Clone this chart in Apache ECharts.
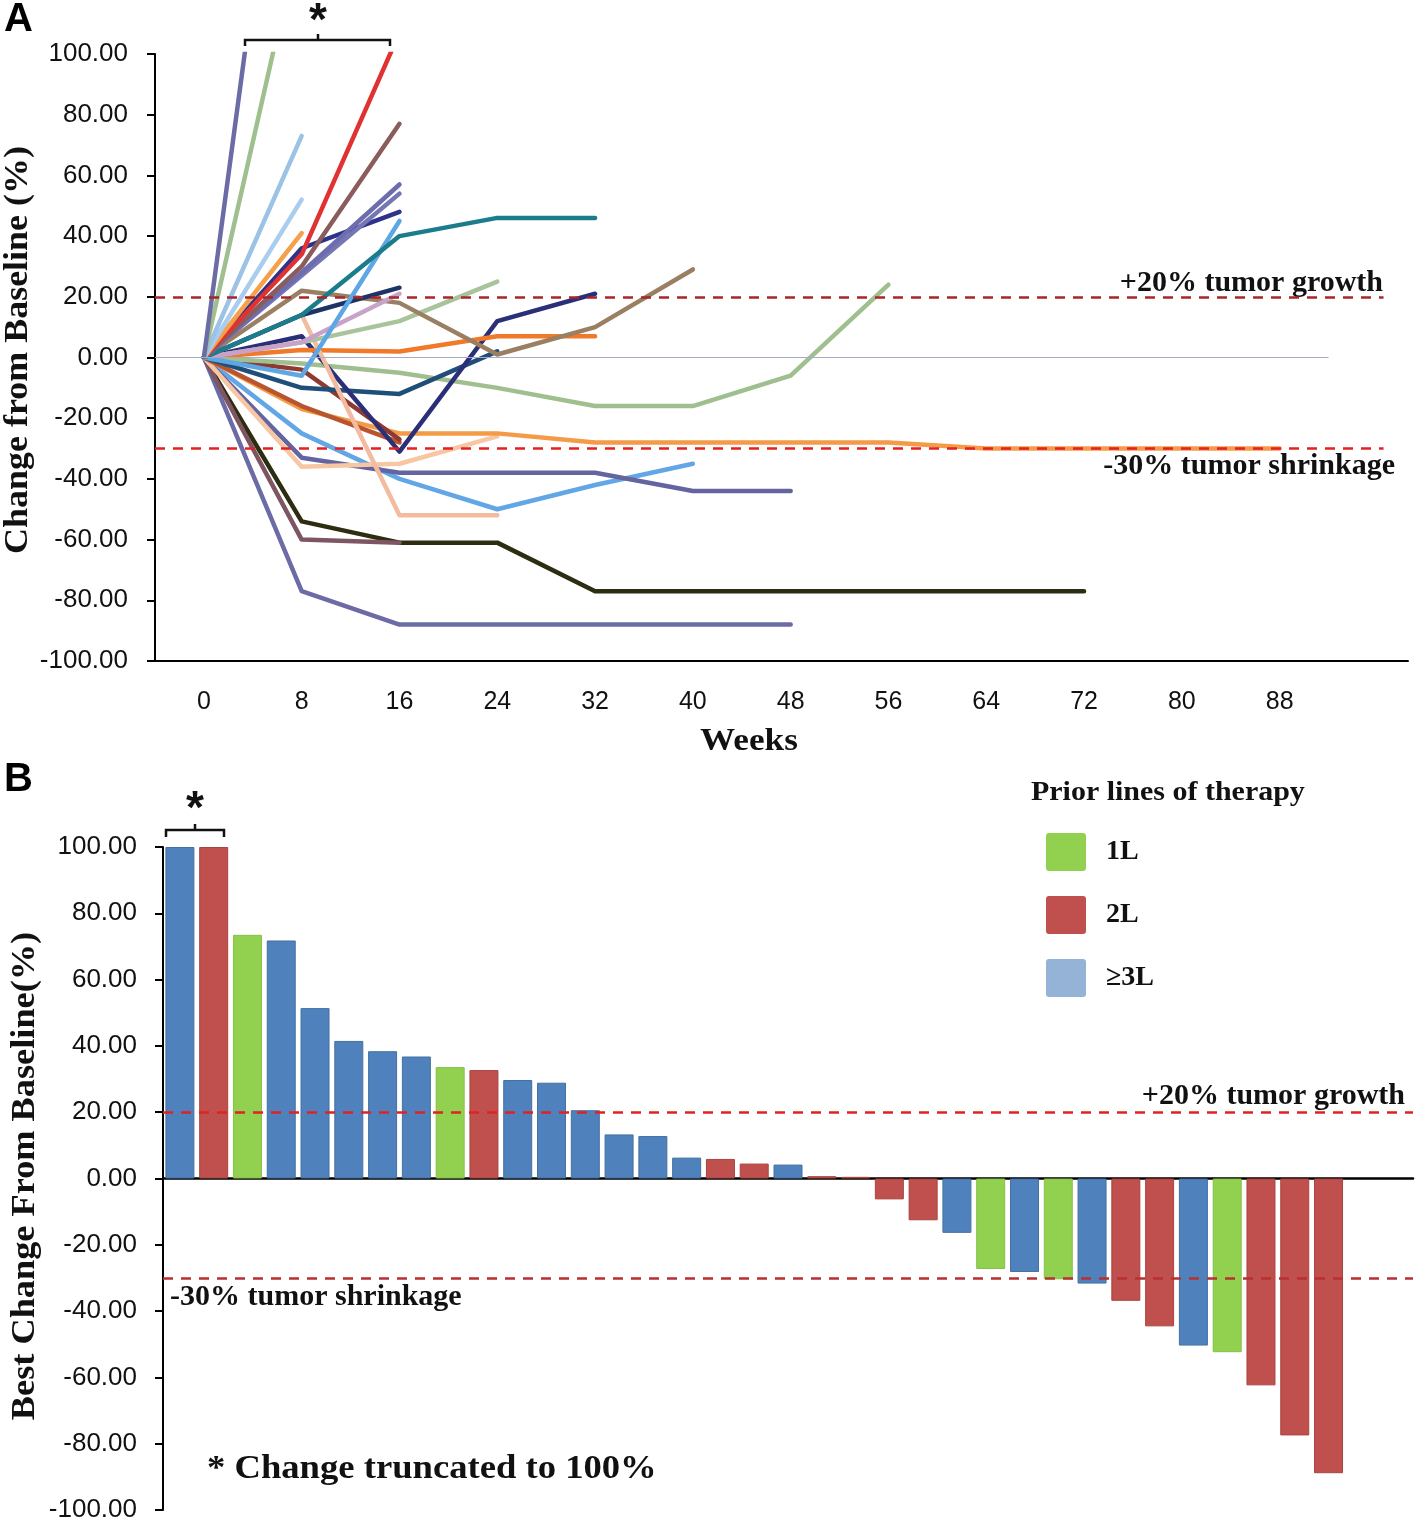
<!DOCTYPE html>
<html><head><meta charset="utf-8">
<script src="https://cdn.jsdelivr.net/npm/echarts@6/dist/echarts.min.js"></script>
<style>html,body{margin:0;padding:0;background:#fff}#c{width:1418px;height:1531px}</style>
</head><body><div id="c"></div>
<script>
// ---------- Panel A data ----------
const weeks = [0, 8, 16, 24, 32, 40, 48, 56, 64, 72, 80, 88];
const weekTickLabels = [0, 8, 16, 24, 32, 40, 48, 56, 64, 72, 80, 88];
const patientChanges = [
  [0, -77, -88, -88, -88, -88, -88],
  [0, -54, -61, -61, -77, -77, -77, -77, -77, -77],
  [0, -60, -61],
  [0, -25, -40, -50, -42, -35],
  [0, -33, -38, -38, -38, -44, -44],
  [0, -36, -35, -26],
  [0, -17, -25, -25, -28, -28, -28, -28, -30, -30, -30, -30],
  [0, -16, -28],
  [0, -4, -27],
  [0, -2, -5, -10, -16, -16, -6, 24],
  [0, -10, -12, 2],
  [0, 7, -31, 12, 21],
  [0, 2.5, 2, 7, 7],
  [0, 14, -52, -52],
  [0, 5, 12, 25],
  [0, 22, 18, 1, 10, 29],
  [0, 5, 21],
  [0, 14, 23],
  [0, -6, 45],
  [0, 14, 40, 46, 46],
  [0, 36, 48],
  [0, 27, 54],
  [0, 28, 57],
  [0, 30, 77],
  [0, 34, 107],
  [0, 41],
  [0, 52],
  [0, 73],
  [0, 142],
  [0, 240]
];
const patientColors = [
  '#6b6ba5', '#2d2d12', '#7d5563', '#62a6e6', '#6464a0', '#f7c6a2',
  '#f49b48', '#b8552e', '#8e3a32', '#9fbf8f', '#1f4e79', '#2a2f78',
  '#f07a2a', '#f3bb9f', '#a9c49b', '#9a7f62', '#c8a2c8', '#1e3466',
  '#5ea6e4', '#1b7d8c', '#2e3288', '#7676b4', '#6c6cae', '#8a5c5c',
  '#e03232', '#f5a04a', '#a9cdee', '#9cc2e6', '#9fbf8f', '#6b6ba5'
];
const thresholds = { growth: 20, shrink: -30 };

// ---------- Panel B data ----------
const patientIds = ['P1','P2','P3','P4','P5','P6','P7','P8','P9','P10','P11','P12','P13','P14','P15','P16','P17','P18','P19','P20','P21','P22','P23','P24','P25','P26','P27','P28','P29','P30','P31','P32','P33','P34','P35'];
const bestChange = [100, 100, 73.5, 71.8, 51.4, 41.5, 38.4, 36.8, 33.6, 32.7, 29.7, 28.9, 20.6, 13.3, 12.8, 6.3, 5.9, 4.5, 4.2, 0.7, 0.5, -6.3, -12.6, -16.4, -27.3, -28.2, -30.4, -31.7, -36.9, -44.6, -50.4, -52.4, -62.4, -77.5, -88.9];
const priorLines = ['≥3L','2L','1L','≥3L','≥3L','≥3L','≥3L','≥3L','1L','2L','≥3L','≥3L','≥3L','≥3L','≥3L','≥3L','2L','2L','≥3L','2L','2L','2L','2L','≥3L','1L','≥3L','1L','≥3L','2L','2L','≥3L','1L','2L','2L','2L'];
const groupNames = ['1L', '2L', '≥3L'];
const groupColors = { '1L': '#92d050', '2L': '#c0504d', '≥3L': '#4f81bd' };
const groupBorders = { '1L': '#86c048', '2L': '#a8443f', '≥3L': '#45719f' };
const legendColors = { '1L': '#92d050', '2L': '#c0504d', '≥3L': '#95b3d7' };

const SERIF = "'Liberation Serif', 'DejaVu Serif', serif";
const SANS = "'Liberation Sans', Arial, sans-serif";

const chart = echarts.init(document.getElementById('c'), null, { renderer: 'canvas' });

const lineSeries = patientChanges.map((vals, i) => ({
  type: 'line',
  xAxisIndex: 0, yAxisIndex: 0,
  data: vals.map((v, k) => [weeks[k], v]),
  symbol: 'none',
  clip: true,
  lineStyle: { color: patientColors[i], width: 4.5, cap: 'round', join: 'round' },
  itemStyle: { color: patientColors[i] },
  silent: true,
  z: 3
}));

lineSeries[0].markLine = {
  silent: true, symbol: 'none', label: { show: false },
  data: [
    [{ coord: [-4, 0], lineStyle: { color: '#a9a9c4', width: 1.2, type: 'solid' } }, { coord: [92, 0] }],
    [{ coord: [-4, thresholds.growth], lineStyle: { color: '#a8262a', width: 2.5, type: [10, 8] } }, { coord: [96.5, thresholds.growth] }],
    [{ coord: [-4, thresholds.shrink], lineStyle: { color: '#e42020', width: 2.5, type: [10, 8] } }, { coord: [96.5, thresholds.shrink] }]
  ]
};

const categories = patientIds.concat([' ', '  ']);
const barSeries = groupNames.map(g => ({
  type: 'bar',
  name: g,
  xAxisIndex: 1, yAxisIndex: 1,
  data: bestChange.map((v, i) => priorLines[i] === g ? v : null),
  barWidth: 29,
  barGap: '-100%',
  itemStyle: { color: groupColors[g], borderColor: groupBorders[g], borderWidth: 1 },
  silent: true,
  z: 2
}));
barSeries[0].markLine = {
  silent: true, symbol: 'none', label: { show: false },
  data: [
    { yAxis: thresholds.growth, lineStyle: { color: '#e02222', width: 2.5, type: [10, 8] } },
    { yAxis: thresholds.shrink, lineStyle: { color: '#b83030', width: 2.5, type: [10, 8] } }
  ]
};

const fmt2 = v => Number(v).toFixed(2);
const legendIcon = 'path://M3,0 L37,0 Q40,0 40,3 L40,35 Q40,38 37,38 L3,38 Q0,38 0,35 L0,3 Q0,0 3,0 Z';

function txt(x, y, text, font, align, extra) {
  return Object.assign({ type: 'text', x: x, y: y, style: { text: text, font: font, fill: '#111', align: align, verticalAlign: 'middle' } }, extra || {});
}

const option = {
  animation: false,
  backgroundColor: '#ffffff',
  grid: [
    { left: 155, top: 54, width: 1253, height: 607 },
    { left: 163, top: 847, width: 1250, height: 663 }
  ],
  xAxis: [
    {
      type: 'value', gridIndex: 0, min: -4, max: 98.5,
      position: 'bottom',
      axisLine: { onZero: false, lineStyle: { color: '#000', width: 2 } },
      axisTick: { show: false },
      splitLine: { show: false },
      axisLabel: { customValues: weekTickLabels, color: '#111', fontFamily: SANS, fontSize: 25, margin: 29 }
    },
    {
      type: 'category', gridIndex: 1, data: categories,
      axisLine: { onZero: true, lineStyle: { color: '#000', width: 2.5 } },
      axisTick: { show: false },
      axisLabel: { show: false },
      splitLine: { show: false }
    }
  ],
  yAxis: [
    {
      type: 'value', gridIndex: 0, min: -100, max: 100, interval: 20,
      position: 'left',
      axisLine: { show: true, onZero: false, lineStyle: { color: '#000', width: 2 } },
      axisTick: { show: true, inside: false, length: 8, lineStyle: { color: '#000', width: 2 } },
      splitLine: { show: false },
      axisLabel: { formatter: fmt2, color: '#111', fontFamily: SANS, fontSize: 26, margin: 27 }
    },
    {
      type: 'value', gridIndex: 1, min: -100, max: 100, interval: 20,
      position: 'left',
      axisLine: { show: true, onZero: false, lineStyle: { color: '#000', width: 2 } },
      axisTick: { show: true, inside: false, length: 8, lineStyle: { color: '#000', width: 2 } },
      splitLine: { show: false },
      axisLabel: { formatter: fmt2, color: '#111', fontFamily: SANS, fontSize: 26, margin: 26 }
    }
  ],
  legend: {
    data: groupNames.map(g => ({ name: g, itemStyle: { color: legendColors[g], borderWidth: 0 } })),
    orient: 'vertical', left: 1041, top: 828,
    itemWidth: 40, itemHeight: 38, itemGap: 25,
    icon: legendIcon, selectedMode: false,
    textStyle: { fontFamily: SERIF, fontWeight: 'bold', fontSize: 28, color: '#111', padding: [0, 0, 0, 15] }
  },
  graphic: [
    { type: 'text', left: 4, top: 0, style: { text: 'A', font: "bold 40px " + SANS, fill: '#000' } },
    { type: 'text', left: 4, top: 760, style: { text: 'B', font: "bold 40px " + SANS, fill: '#000' } },
    txt(18, 350, 'Change from Baseline (%)', "bold 33px " + SERIF, 'center', { rotation: Math.PI / 2, scaleX: 1.09 }),
    txt(749, 742, 'Weeks', "bold 32px " + SERIF, 'center', { scaleX: 1.1 }),
    txt(1383, 283, '+20% tumor growth', "bold 30px " + SERIF, 'right'),
    txt(1395, 466, '-30% tumor shrinkage', "bold 30px " + SERIF, 'right'),
    txt(318, 22, '*', "bold 46px " + SANS, 'center'),
    { type: 'polyline', shape: { points: [[245, 46], [245, 40], [390, 40], [390, 46]] }, style: { stroke: '#111', lineWidth: 2.5, fill: null } },
    { type: 'line', shape: { x1: 318, y1: 40, x2: 318, y2: 34 }, style: { stroke: '#111', lineWidth: 2.5 } },

    txt(25, 1176, 'Best Change From Baseline(%)', "bold 33px " + SERIF, 'center', { rotation: Math.PI / 2, scaleX: 1.1 }),
    txt(1405, 1096, '+20% tumor growth', "bold 30px " + SERIF, 'right'),
    txt(170, 1297, '-30% tumor shrinkage', "bold 30px " + SERIF, 'left'),
    txt(207, 1469, '* Change truncated to 100%', "bold 33px " + SERIF, 'left', { scaleX: 1.11 }),
    txt(1031, 793, 'Prior lines of therapy', "bold 27px " + SERIF, 'left', { scaleX: 1.11 }),
    txt(195, 810, '*', "bold 46px " + SANS, 'center'),
    { type: 'polyline', shape: { points: [[166, 837], [166, 830], [224, 830], [224, 837]] }, style: { stroke: '#111', lineWidth: 2.5, fill: null } },
    { type: 'line', shape: { x1: 195, y1: 830, x2: 195, y2: 824 }, style: { stroke: '#111', lineWidth: 2.5 } }
  ],
  series: lineSeries.concat(barSeries)
};
chart.setOption(option);
</script>
</body></html>
